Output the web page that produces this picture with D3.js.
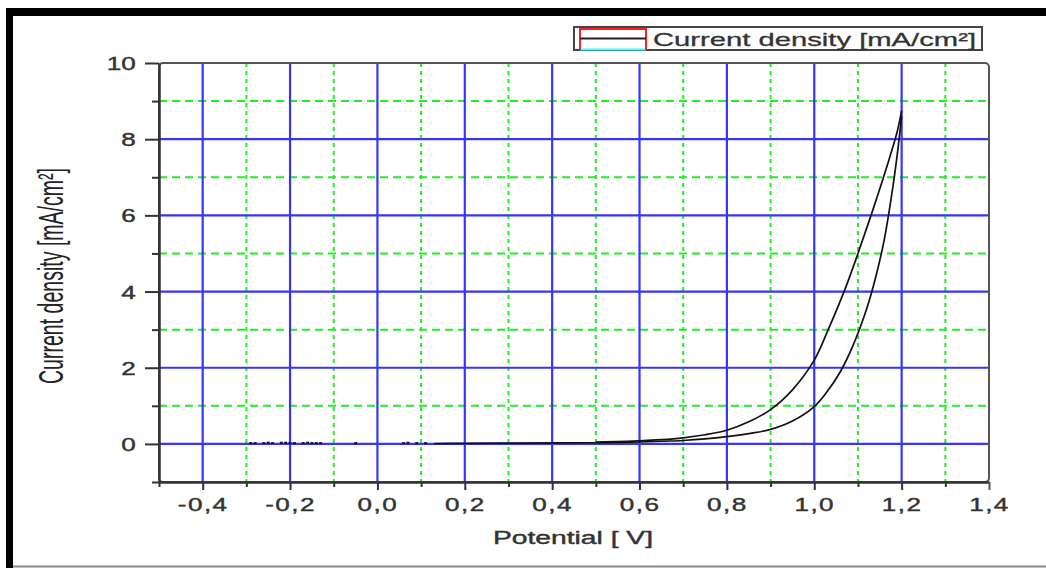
<!DOCTYPE html>
<html>
<head>
<meta charset="utf-8">
<script src="https://cdn.jsdelivr.net/npm/d3@7"></script>
<style>
  body { margin: 0; background: #fff; }
  svg { display: block; font-family: "Liberation Sans", Arial, sans-serif; }
</style>
</head>
<body>
<svg id="chart" width="1046" height="568"></svg>
<script>
// forward scan (lower branch), V and mA/cm2
var fwdV = [0.13, 0.2, 0.3, 0.4, 0.5, 0.6, 0.65, 0.7, 0.75, 0.8, 0.85, 0.9, 0.95, 1.0, 1.03, 1.06, 1.09, 1.12, 1.14, 1.16, 1.18, 1.19, 1.2];
var fwdJ = [0.01, 0.015, 0.02, 0.025, 0.03, 0.05, 0.07, 0.09, 0.13, 0.19, 0.27, 0.38, 0.6, 0.98, 1.38, 1.9, 2.62, 3.55, 4.35, 5.35, 6.75, 7.6, 8.6];

// reverse scan (upper branch)
var revV = [1.2, 1.19, 1.18, 1.16, 1.13, 1.1, 1.07, 1.03, 1.0, 0.95, 0.9, 0.85, 0.8, 0.75, 0.7, 0.65, 0.6, 0.5];
var revJ = [8.75, 8.2, 7.8, 7.05, 6.0, 5.0, 4.05, 2.95, 2.2, 1.42, 0.9, 0.58, 0.36, 0.24, 0.16, 0.11, 0.08, 0.05];

// scattered points at start of the scan
var noiseV = [-0.29, -0.28, -0.26, -0.25, -0.24, -0.22, -0.21, -0.2, -0.19, -0.17, -0.16, -0.15, -0.14, -0.13, -0.05, 0.06, 0.07, 0.09, 0.11];
var noiseJ = [0.02, 0.02, 0.02, 0.03, 0.02, 0.03, 0.03, 0.02, 0.02, 0.02, 0.03, 0.02, 0.02, 0.02, 0.02, 0.02, 0.03, 0.02, 0.02];

var xMajor = [-0.4, -0.2, 0.0, 0.2, 0.4, 0.6, 0.8, 1.0, 1.2, 1.4];
var xMinor = [-0.5, -0.3, -0.1, 0.1, 0.3, 0.5, 0.7, 0.9, 1.1, 1.3];
var yMajor = [0, 2, 4, 6, 8, 10];
var yMinor = [-1, 1, 3, 5, 7, 9];

var seriesName = "Current density [mA/cm\u00B2]";
var xTitle = "Potential [ V]";
var yTitle = "Current density [mA/cm\u00B2]";

var svg = d3.select("#chart");
var pLeft = 159, pRight = 989, pTop = 63, pBottom = 482;
var sx = 1.45; // the picture is stretched sideways

var x = d3.scaleLinear().domain([-0.5, 1.4]).range([pLeft, pRight]);
var y = d3.scaleLinear().domain([-1, 10]).range([pBottom, pTop]);

var loc = d3.formatLocale({decimal: ",", thousands: ".", grouping: [3], currency: ["", ""], minus: "-"});
var fmt = loc.format(".1f");

// outer frame
svg.append("rect").attr("x", 6).attr("y", 8).attr("width", 1040).attr("height", 8).attr("fill", "#000");
svg.append("rect").attr("x", 6).attr("y", 8).attr("width", 7).attr("height", 560).attr("fill", "#000");
svg.append("line").attr("x1", 13).attr("x2", 1046).attr("y1", 566.5).attr("y2", 566.5)
  .attr("stroke", "#888").attr("stroke-width", 2);

// grid
var grid = svg.append("g");
grid.selectAll(".vmin").data(xMinor.filter(function(d) { return d > -0.5; })).enter().append("line")
  .attr("x1", function(d) { return x(d); }).attr("x2", function(d) { return x(d); })
  .attr("y1", pTop).attr("y2", pBottom)
  .attr("stroke", "#22ee22").attr("stroke-width", 2).attr("stroke-dasharray", "4,4");
grid.selectAll(".hmin").data(yMinor.filter(function(d) { return d > -1; })).enter().append("line")
  .attr("x1", pLeft).attr("x2", pRight)
  .attr("y1", function(d) { return y(d); }).attr("y2", function(d) { return y(d); })
  .attr("stroke", "#22ee22").attr("stroke-width", 2).attr("stroke-dasharray", "8,5");
grid.selectAll(".vmaj").data(xMajor.filter(function(d) { return d < 1.4; })).enter().append("line")
  .attr("x1", function(d) { return x(d); }).attr("x2", function(d) { return x(d); })
  .attr("y1", pTop).attr("y2", pBottom)
  .attr("stroke", "#3535ff").attr("stroke-width", 2.2);
grid.selectAll(".hmaj").data(yMajor.filter(function(d) { return d < 10; })).enter().append("line")
  .attr("x1", pLeft).attr("x2", pRight)
  .attr("y1", function(d) { return y(d); }).attr("y2", function(d) { return y(d); })
  .attr("stroke", "#3535ff").attr("stroke-width", 2.2);

// curve
var line = d3.line().x(function(d) { return x(d[0]); }).y(function(d) { return y(d[1]); }).curve(d3.curveCatmullRom.alpha(0.5));
svg.append("path").datum(d3.zip(fwdV, fwdJ)).attr("d", line)
  .attr("fill", "none").attr("stroke", "#111").attr("stroke-width", 1.7);
svg.append("path").datum(d3.zip(revV, revJ)).attr("d", line)
  .attr("fill", "none").attr("stroke", "#111").attr("stroke-width", 1.7);
svg.selectAll(".noise").data(d3.zip(noiseV, noiseJ)).enter().append("rect")
  .attr("x", function(d) { return x(d[0]) - 1.5; }).attr("y", function(d) { return y(d[1]) - 1; })
  .attr("width", 3).attr("height", 2).attr("fill", "#111");

// plot frame (top / right)
svg.append("rect").attr("x", pLeft).attr("y", pTop).attr("width", pRight - pLeft).attr("height", pBottom - pTop)
  .attr("rx", 4).attr("fill", "none").attr("stroke", "#555").attr("stroke-width", 2);

// axes
function styleAxis(g) {
  g.select(".domain").attr("stroke", "#333").attr("stroke-width", 2);
  g.selectAll(".tick line").attr("stroke", "#333").attr("stroke-width", 2);
}
var yAxMin = svg.append("g").attr("transform", "translate(" + pLeft + ",0)")
  .call(d3.axisLeft(y).tickValues(yMinor).tickSize(7).tickSizeOuter(0).tickFormat(""));
styleAxis(yAxMin);
var yAx = svg.append("g").attr("transform", "translate(" + pLeft + ",0)")
  .call(d3.axisLeft(y).tickValues(yMajor).tickSize(14).tickSizeOuter(0).tickFormat(function(d) { return d; }));
styleAxis(yAx);
yAx.selectAll(".tick text").attr("x", -16).attr("dy", "0.36em")
  .attr("transform", "scale(" + sx + ",1)").attr("font-size", 18).attr("fill", "#333")
  .attr("stroke", "#333").attr("stroke-width", 0.4);

var xAxMin = svg.append("g").attr("transform", "translate(0," + pBottom + ")")
  .call(d3.axisBottom(x).tickValues(xMinor).tickSize(5).tickSizeOuter(0).tickFormat(""));
styleAxis(xAxMin);
var xAx = svg.append("g").attr("transform", "translate(0," + pBottom + ")")
  .call(d3.axisBottom(x).tickValues(xMajor).tickSize(8).tickSizeOuter(0).tickFormat(fmt));
styleAxis(xAx);
xAx.selectAll(".tick text").attr("y", 29).attr("dy", 0)
  .attr("transform", "scale(" + sx + ",1)").attr("font-size", 18).attr("fill", "#333")
  .attr("stroke", "#333").attr("stroke-width", 0.4).attr("letter-spacing", 1);
// right edge tick at 1.4
xAx.selectAll(".tick line").filter(function(d) { return d === 1.4; }).attr("stroke", "#555");

// axis titles
svg.append("text").attr("x", 573).attr("y", 544).attr("text-anchor", "middle")
  .attr("font-size", 18).attr("fill", "#333").attr("stroke", "#333").attr("stroke-width", 0.4)
  .attr("textLength", 160).attr("lengthAdjust", "spacingAndGlyphs").text(xTitle);
svg.append("text").attr("transform", "translate(63,276) scale(" + sx + ",1) rotate(-90)")
  .attr("text-anchor", "middle").attr("font-size", 24).attr("fill", "#222")
  .attr("textLength", 216).attr("lengthAdjust", "spacingAndGlyphs").text(yTitle);

// legend
var lg = svg.append("g");
lg.append("rect").attr("x", 574).attr("y", 27).attr("width", 408).attr("height", 23)
  .attr("fill", "#fff").attr("stroke", "#444").attr("stroke-width", 2);
lg.append("line").attr("x1", 580).attr("x2", 646).attr("y1", 49.5).attr("y2", 49.5).attr("stroke", "#33ffff").attr("stroke-width", 2);
lg.append("path").attr("d", "M580,50V29H646V50").attr("fill", "none").attr("stroke", "#ff2020").attr("stroke-width", 2);
lg.append("line").attr("x1", 580).attr("x2", 646).attr("y1", 38.5).attr("y2", 38.5).attr("stroke", "#222").attr("stroke-width", 2);
lg.append("text").attr("x", 653).attr("y", 46).attr("font-size", 19).attr("fill", "#333")
  .attr("stroke", "#333").attr("stroke-width", 0.3)
  .attr("textLength", 323).attr("lengthAdjust", "spacingAndGlyphs").text(seriesName);
</script>
</body>
</html>
